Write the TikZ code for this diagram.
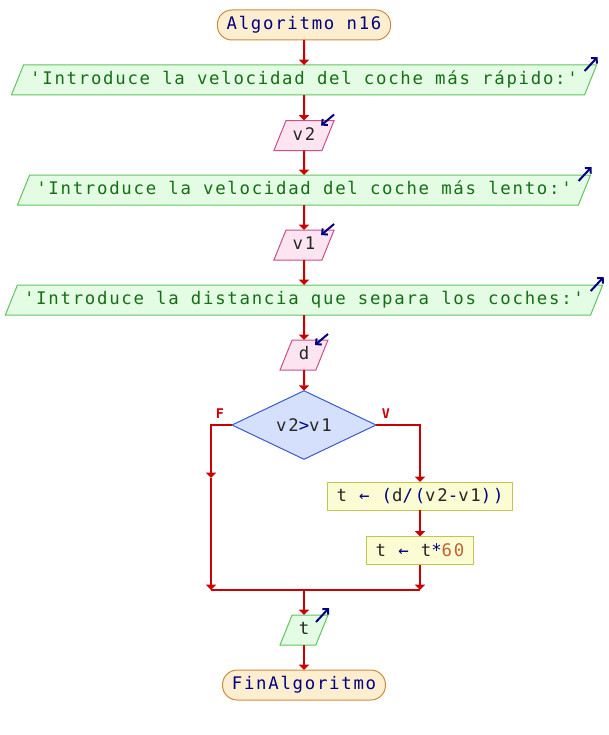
\documentclass[tikz,border=0pt]{standalone}
\usepackage{fontspec}
\usetikzlibrary{shapes.geometric,arrows.meta}
\newfontfamily\psmono[LetterSpace=10,Ligatures=TeXOff]{DejaVu Sans Mono}
\definecolor{termfill}{RGB}{253,238,208}
\definecolor{termdraw}{RGB}{204,140,60}
\definecolor{outfill}{RGB}{228,252,228}
\definecolor{outdraw}{RGB}{96,196,96}
\definecolor{infill}{RGB}{252,228,240}
\definecolor{indraw}{RGB}{200,80,140}
\definecolor{condfill}{RGB}{212,224,252}
\definecolor{conddraw}{RGB}{60,90,200}
\definecolor{procfill}{RGB}{252,252,212}
\definecolor{procdraw}{RGB}{196,196,80}
\definecolor{flowred}{RGB}{204,0,0}
\definecolor{strgreen}{RGB}{20,110,20}
\definecolor{kwblue}{RGB}{0,0,128}
\definecolor{numbrown}{RGB}{190,100,50}
\newcommand{\psop}[1]{\textcolor{kwblue}{#1}}
\newcommand{\psnum}[1]{\textcolor{numbrown}{#1}}
\tikzset{
  base/.style={font=\psmono\fontsize{13}{15}\selectfont, outer sep=0pt, line width=0.75pt, text=black!85},
  term/.style={base, draw=termdraw, fill=termfill, rounded corners=11pt, minimum height=22.5pt, inner xsep=7pt, inner ysep=0pt, text=kwblue},
  para/.style={base, trapezium, trapezium left angle=68, trapezium right angle=112, text height=10pt, text depth=3pt, inner xsep=5pt, inner ysep=4.75pt},
  outbox/.style={para, draw=outdraw, fill=outfill},
  inbox/.style={para, draw=indraw, fill=infill},
  procbox/.style={base, draw=procdraw, fill=procfill, minimum height=21pt, inner xsep=7pt, inner ysep=0pt},
  cond/.style={base, diamond, draw=conddraw, fill=condfill, minimum width=108pt, minimum height=45pt, inner sep=0pt},
  flow/.style={draw=flowred, line width=1.5pt, -{Triangle[length=4pt,width=7.5pt]}},
  flowline/.style={draw=flowred, line width=1.5pt},
  iodir/.style={draw=kwblue, line width=1.5pt, -{Straight Barb[length=3pt,width=6pt]}},
  brlabel/.style={font=\psmono\fontsize{10}{12}\selectfont\bfseries, text=flowred, inner sep=0pt}
}
\begin{document}
\begin{tikzpicture}[x=0.75pt, y=-0.75pt]
\useasboundingbox (0,0) rectangle (608,735);

% bloques
\node[term] (start) at (304,25) {Algoritmo n16};
\node[outbox, text=strgreen] (o1) at (304,80) {'Introduce la velocidad del coche más rápido:'};
\node[inbox] (iv2) at (304,135.5) {v2};
\node[outbox, text=strgreen] (o2) at (304,190) {'Introduce la velocidad del coche más lento:'};
\node[inbox] (iv1) at (304,245) {v1};
\node[outbox, text=strgreen] (o3) at (304,300) {'Introduce la distancia que separa los coches:'};
\node[inbox] (id) at (304,355) {d};
\node[cond] (c1) at (304,425) {v2\psop{>}v1};
\node[brlabel] (flab) at (220,414) {F};
\node[brlabel] (vlab) at (386,414) {V};
\node[procbox] (p1) at (420,496) {t \psop{←} \psop{(}d\psop{/(}v2\psop{-}v1\psop{))}};
\node[procbox, inner xsep=6.5pt] (p2) at (420,550.5) {t \psop{←} t\psop{*}\psnum{60}};
\node[outbox] (ot) at (304,630) {t};
\node[term] (fin) at (304,685) {FinAlgoritmo};

% flechas de entrada/salida
\draw[iodir] ([shift={(-12,6)}]o1.top right corner) -- ([shift={(1,-8)}]o1.top right corner);
\draw[iodir] ([shift={(-12,6)}]o2.top right corner) -- ([shift={(1,-8)}]o2.top right corner);
\draw[iodir] ([shift={(-12,6)}]o3.top right corner) -- ([shift={(1,-8)}]o3.top right corner);
\draw[iodir] ([shift={(-12,7)}]ot.top right corner) -- ([shift={(1,-7)}]ot.top right corner);
\draw[iodir] ([shift={(0,-6)}]iv2.top right corner) -- ([shift={(-13,5)}]iv2.top right corner);
\draw[iodir] ([shift={(0,-6)}]iv1.top right corner) -- ([shift={(-13,5)}]iv1.top right corner);
\draw[iodir] ([shift={(0,-6)}]id.top right corner) -- ([shift={(-13,5)}]id.top right corner);

% conexiones
\coordinate (lmid) at (211,478);
\coordinate (ljoin) at (211,590);
\coordinate (rjoin) at (420,590);
\coordinate (mjoin) at (304,590);
\draw[flow] (start) -- (o1);
\draw[flow] (o1) -- (iv2);
\draw[flow] (iv2) -- (o2);
\draw[flow] (o2) -- (iv1);
\draw[flow] (iv1) -- (o3);
\draw[flow] (o3) -- (id);
\draw[flow] (id) -- (c1);
\draw[flow] (c1.west) -| (lmid);
\draw[flow] (lmid) -- (ljoin);
\draw[flow] (c1.east) -| (p1.north);
\draw[flow] (p1) -- (p2);
\draw[flow] (p2) -- (rjoin);
\draw[flowline] (ljoin) -- (rjoin);
\draw[flow] (mjoin) -- (ot);
\draw[flow] (ot) -- (fin);
\end{tikzpicture}
\end{document}
